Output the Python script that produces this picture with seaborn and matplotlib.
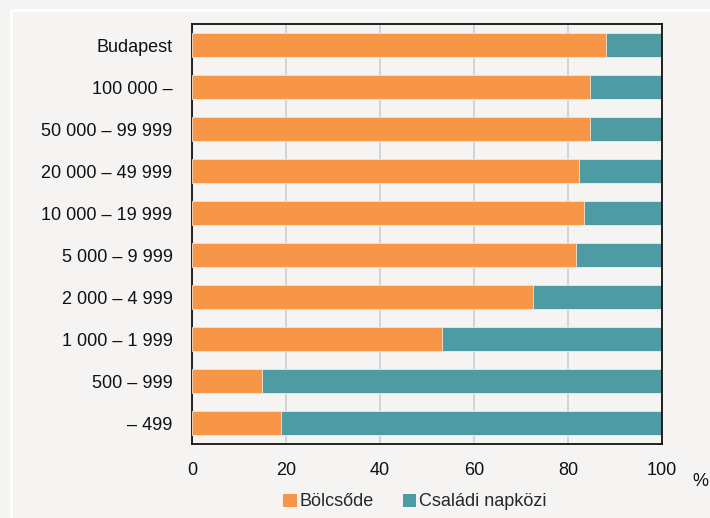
import matplotlib
matplotlib.use("Agg")
import matplotlib.pyplot as plt
import matplotlib.lines as mlines
import matplotlib.patches as mpatches
import pandas as pd
import seaborn as sns

# Data (share in %)
categories = ['Budapest', '100 000 –', '50 000 – 99 999', '20 000 – 49 999',
              '10 000 – 19 999', '5 000 – 9 999', '2 000 – 4 999',
              '1 000 – 1 999', '500 – 999', '– 499']
bolcsode = [88.0, 84.7, 84.7, 82.3, 83.4, 81.7, 72.6, 53.1, 14.9, 19.0]
napkozi = [12.0, 15.3, 15.3, 17.7, 16.6, 18.3, 27.4, 46.9, 85.1, 81.0]
series_names = ['Bölcsőde', 'Családi napközi']
xticks = [0, 20, 40, 60, 80, 100]

ORANGE = '#F79646'
TEAL = '#4F9BA3'
BG = '#F5F4F2'
FS = 13

sns.set_theme(style='white')
plt.rcParams['font.family'] = ['Liberation Sans', 'DejaVu Sans']

df = pd.DataFrame({'cat': categories, 'bolcsode': bolcsode, 'napkozi': napkozi})
df['total'] = df['bolcsode'] + df['napkozi']

fig = plt.figure(figsize=(7.1, 5.18), dpi=100, facecolor=BG)
ax = fig.add_axes([192 / 710, 1 - 444 / 518, 470 / 710, 420 / 518])
ax.set_facecolor(BG)

# stacked horizontal bars: total first (teal), then bölcsőde on top (orange)
sns.barplot(data=df, x='total', y='cat', order=categories, orient='h',
            color=TEAL, saturation=1, width=0.55, ax=ax,
            edgecolor='#e8eef0', linewidth=0.6, zorder=2)
sns.barplot(data=df, x='bolcsode', y='cat', order=categories, orient='h',
            color=ORANGE, saturation=1, width=0.55, ax=ax,
            edgecolor='#fbe3cf', linewidth=0.6, zorder=3)

ax.set_xlim(0, 100)
ax.set_ylim(len(categories) - 0.5, -0.5)
ax.set_xticks(xticks)
ax.set_xticklabels([str(t) for t in xticks])
ax.set_xlabel('')
ax.set_ylabel('')
ax.tick_params(axis='both', length=0, labelsize=FS, colors='#111111')
ax.tick_params(axis='y', pad=14)
ax.tick_params(axis='x', pad=13)

ax.grid(axis='x', color='#d4d4d4', linewidth=1.4, zorder=0)
ax.grid(axis='y', visible=False)
ax.set_axisbelow(True)
for sp in ax.spines.values():
    sp.set_visible(True)
    sp.set_color('#111111')
    sp.set_linewidth(1.3)

# unit label at the right end of the x axis
fig.text(700 / 710, 1 - 482 / 518, '%', fontsize=FS, color='#111111',
         ha='center', va='center')

# legend below the plot
handles = [mpatches.Patch(facecolor=ORANGE, edgecolor='none', label=series_names[0]),
           mpatches.Patch(facecolor=TEAL, edgecolor='none', label=series_names[1])]
fig.legend(handles=handles, loc='center', bbox_to_anchor=(415 / 710, 1 - 502 / 518),
           ncol=2, frameon=False, fontsize=FS, handlelength=0.75, handleheight=0.75,
           handletextpad=0.15, columnspacing=1.6, borderpad=0)

# thin white frame lines (top and left) of the panel
fig.add_artist(mlines.Line2D([11 / 710, 1], [1 - 10 / 518, 1 - 10 / 518],
                             color='white', linewidth=1.8, transform=fig.transFigure))
fig.add_artist(mlines.Line2D([11 / 710, 11 / 710], [0, 1 - 10 / 518],
                             color='white', linewidth=1.8, transform=fig.transFigure))

fig.savefig('out.png', dpi=100, facecolor=BG)
